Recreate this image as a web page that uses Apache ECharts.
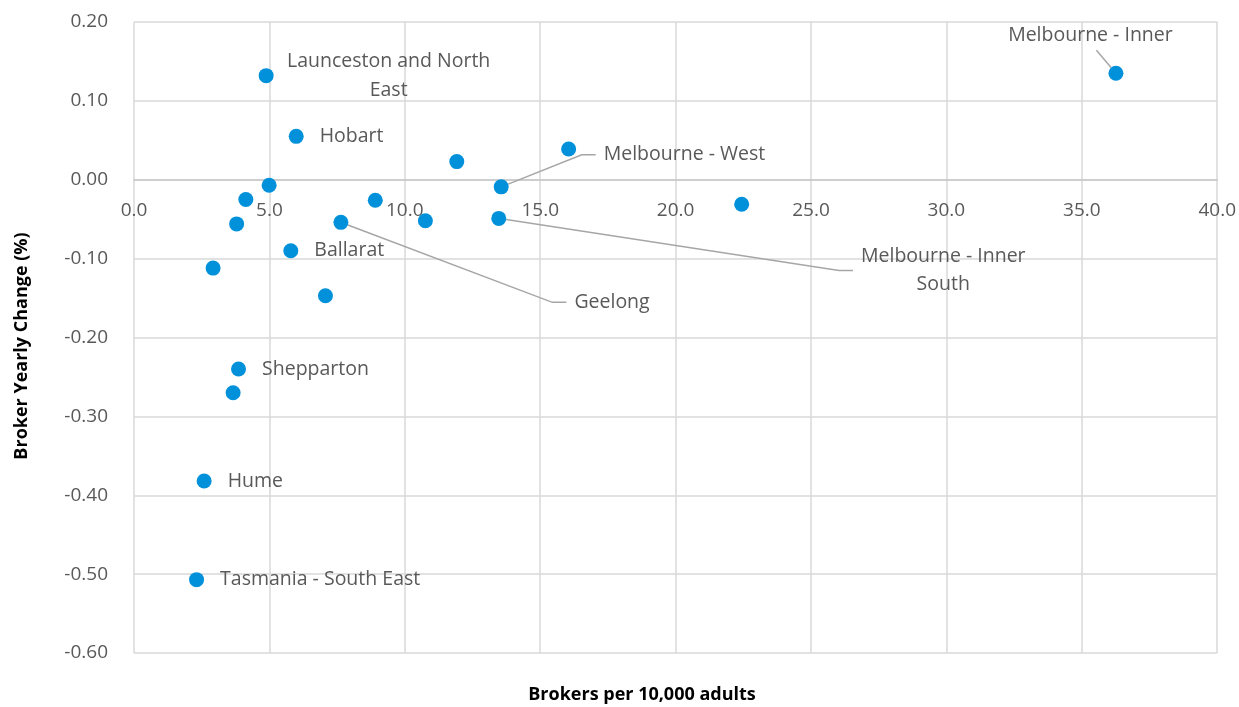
<!DOCTYPE html>
<html>
<head>
<meta charset="utf-8">
<title>Broker density vs yearly change</title>
<script src="https://cdn.jsdelivr.net/npm/echarts@6/dist/echarts.min.js"></script>
<style>
  html, body { margin: 0; padding: 0; background: #ffffff; }
  #chart { width: 1239px; height: 707px; }
</style>
</head>
<body>
<div id="chart"></div>
<script>
// Region labels ('' = point drawn without a label)
const regionLabels = [
  'Launceston and North\nEast', 'Hobart', '', '', 'Melbourne - Inner',
  '', '', '', '', 'Ballarat',
  'Geelong', '', '', 'Melbourne - West', 'Melbourne - Inner\nSouth',
  '', '', 'Shepparton', '', 'Hume',
  'Tasmania - South East'
];

// Brokers per 10,000 adults
const brokersPer10k = [
  4.88, 5.99, 11.92, 16.05, 36.26,
  4.99, 4.13, 3.79, 2.92, 5.79,
  7.64, 8.91, 10.76, 13.56, 13.47,
  22.44, 7.07, 3.86, 3.66, 2.59,
  2.31
];

// Broker yearly change (%)
const yearlyChange = [
  0.132, 0.055, 0.023, 0.039, 0.135,
  -0.007, -0.025, -0.056, -0.112, -0.090,
  -0.054, -0.026, -0.052, -0.009, -0.049,
  -0.031, -0.147, -0.240, -0.270, -0.382,
  -0.507
];

const xTicks = { min: 0, max: 40, step: 5 };
const yTicks = { min: -0.6, max: 0.2, step: 0.1 };

const FONT = '"Open Sans", "Liberation Sans", sans-serif';
const TEXT_GREY = '#595959';
const GRID_GREY = '#d9d9d9';
const DOT_BLUE = '#0091DA';

// Labels moved away from their point, some with a leader line
const movedLabels = {
  'Launceston and North\nEast': { dx: 99, dy: 0, align: 'center', lineHeight: 29, line: false },
  'Melbourne - Inner': { dx: -43, dy: -38, align: 'center', lineHeight: 22, padding: [0, 12, 8, 0], line: true, length2: 0 },
  'Geelong': { dx: 202, dy: 80, align: 'left', lineHeight: 22, padding: [0, 0, 0, 8], line: true, length2: 14 },
  'Melbourne - West': { dx: 71, dy: -32, align: 'left', lineHeight: 22, padding: [0, 0, 0, 8], line: true, length2: 14 },
  'Melbourne - Inner\nSouth': { dx: 417, dy: 52, align: 'center', lineHeight: 28, padding: [0, 0, 0, 8], line: true, length2: 14 }
};

const points = brokersPer10k.map((x, i) => {
  const text = regionLabels[i];
  const moved = movedLabels[text];
  const item = {
    value: [x, yearlyChange[i]],
    name: text,
    label: {
      show: text !== '',
      formatter: text,
      lineHeight: moved ? moved.lineHeight : 22,
      padding: moved && moved.padding ? moved.padding : 0
    }
  };
  if (moved && moved.line) {
    item.labelLine = {
      show: true,
      length2: moved.length2,
      minTurnAngle: 0,
      lineStyle: { color: '#a6a6a6', width: 1.5 }
    };
  }
  return item;
});

const chart = echarts.init(document.getElementById('chart'), null, { renderer: 'canvas' });

chart.setOption({
  animation: false,
  backgroundColor: '#ffffff',
  grid: { left: 134, right: 20, top: 22, bottom: 54 },
  xAxis: {
    type: 'value',
    position: 'bottom',
    min: xTicks.min,
    max: xTicks.max,
    interval: xTicks.step,
    axisLine: { show: true, onZero: false, lineStyle: { color: '#c8c8c8', width: 1.5 } },
    axisTick: { show: false },
    axisLabel: {
      margin: 21,
      color: TEXT_GREY,
      fontFamily: FONT,
      fontSize: 19,
      formatter: v => v.toFixed(1)
    },
    splitLine: { show: true, lineStyle: { color: GRID_GREY, width: 1.5 } }
  },
  yAxis: {
    type: 'value',
    min: yTicks.min,
    max: yTicks.max,
    interval: yTicks.step,
    axisLine: { show: false },
    axisTick: { show: false },
    axisLabel: {
      margin: 26,
      color: TEXT_GREY,
      fontFamily: FONT,
      fontSize: 19,
      formatter: v => v.toFixed(2)
    },
    splitLine: { show: true, lineStyle: { color: GRID_GREY, width: 1.5 } }
  },
  graphic: [
    {
      type: 'text',
      x: 642,
      y: 695,
      style: {
        text: 'Brokers per 10,000 adults',
        font: 'bold 18px ' + FONT,
        fill: '#000000',
        align: 'center',
        verticalAlign: 'middle'
      }
    },
    {
      type: 'text',
      x: 22,
      y: 346,
      rotation: Math.PI / 2,
      style: {
        text: 'Broker Yearly Change (%)',
        font: 'bold 18px ' + FONT,
        fill: '#000000',
        align: 'center',
        verticalAlign: 'middle'
      }
    }
  ],
  series: [
    {
      type: 'scatter',
      symbol: 'circle',
      symbolSize: 15,
      itemStyle: { color: DOT_BLUE, opacity: 1 },
      emphasis: { disabled: true },
      label: {
        show: true,
        position: 'right',
        distance: 16,
        color: TEXT_GREY,
        fontFamily: FONT,
        fontSize: 19.5
      },
      labelLayout: function (params) {
        const moved = movedLabels[regionLabels[params.dataIndex]];
        if (!moved) return {};
        return { dx: moved.dx, dy: moved.dy, align: moved.align };
      },
      data: points
    }
  ]
});

// Raise the category axis (line and tick labels) to the zero line of the value scale
const yZero = chart.convertToPixel({ yAxisIndex: 0 }, 0);
const yBottom = chart.convertToPixel({ yAxisIndex: 0 }, yTicks.min);
chart.setOption({ xAxis: { offset: yZero - yBottom } });
</script>
</body>
</html>
